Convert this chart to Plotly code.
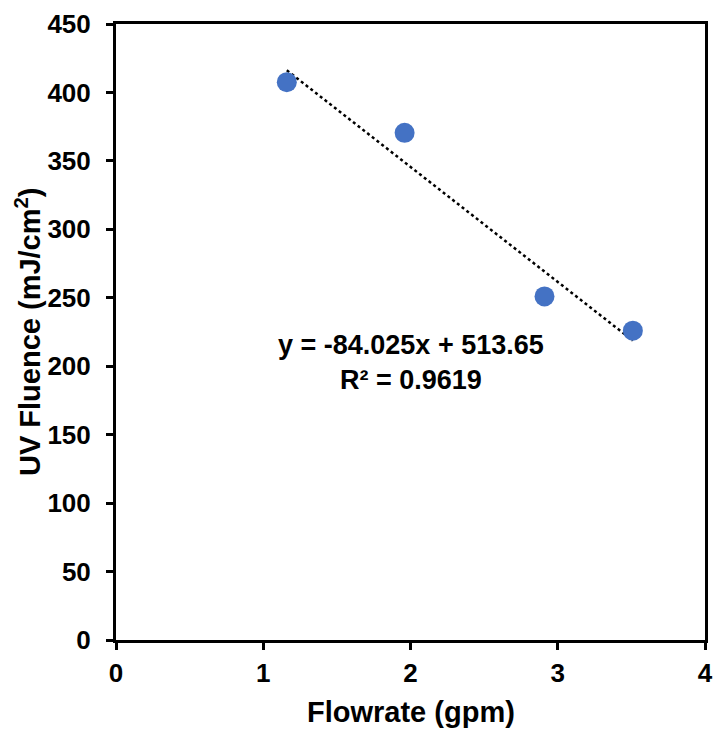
import plotly.graph_objects as go

flowrate = [1.16, 1.96, 2.91, 3.51]
fluence = [407.5, 370.5, 251.0, 226.0]
slope = -84.025
intercept = 513.65
trend_x = [min(flowrate), max(flowrate)]
trend_y = [slope * x + intercept for x in trend_x]
x_ticks = [0, 1, 2, 3, 4]
y_ticks = [0, 50, 100, 150, 200, 250, 300, 350, 400, 450]

font_family = "Liberation Sans, Arial, sans-serif"

fig = go.Figure()
fig.add_trace(go.Scatter(x=trend_x, y=trend_y, mode="lines",
                         line=dict(color="black", width=2.5, dash="dot"),
                         showlegend=False, hoverinfo="skip"))
fig.add_trace(go.Scatter(x=flowrate, y=fluence, mode="markers",
                         marker=dict(color="#4472C4", size=20),
                         showlegend=False))

fig.add_annotation(x=2.0, y=203, xref="x", yref="y",
                   text="y = -84.025x + 513.65<br>R² = 0.9619",
                   showarrow=False, align="center",
                   font=dict(family=font_family, size=27, color="black", weight="bold"))

tick_font = dict(family=font_family, size=26, color="black", weight="bold")
title_font = dict(family=font_family, size=29, color="black", weight="bold")

fig.add_annotation(x=0.5, y=0, xref="paper", yref="paper", yshift=-72,
                   text="Flowrate (gpm)", showarrow=False,
                   xanchor="center", yanchor="middle", font=title_font)
fig.add_annotation(x=0, y=0.5, xref="paper", yref="paper", xshift=-88,
                   text="UV Fluence (mJ/cm<sup>2</sup>)", showarrow=False, textangle=-90,
                   xanchor="center", yanchor="middle", font=title_font)

axis_common = dict(showgrid=False, zeroline=False, showline=True, linecolor="black",
                   linewidth=3, mirror=True, ticks="outside", tickcolor="black",
                   tickwidth=3, ticklen=7, automargin=False, tickfont=tick_font)

fig.update_xaxes(range=[0, 4], tickvals=x_ticks, ticklabelstandoff=1, **axis_common)
fig.update_yaxes(range=[0, 450], tickvals=y_ticks, ticklabelstandoff=10, **axis_common)
fig.update_layout(width=715, height=732, plot_bgcolor="white", paper_bgcolor="white",
                  margin=dict(l=116, r=10, t=24, b=92),
                  font=dict(family=font_family, color="black"))

fig.write_html("out.html", config={"displayModeBar": False},
               post_script="document.body.style.margin='0';"
                           "document.documentElement.style.overflow='hidden';"
                           "document.body.style.overflow='hidden';")
